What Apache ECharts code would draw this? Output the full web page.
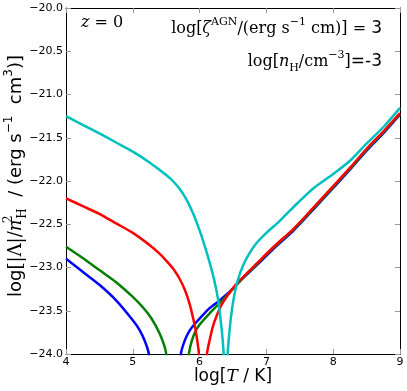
<!DOCTYPE html>
<html>
<head>
<meta charset="utf-8">
<script src="https://cdn.jsdelivr.net/npm/echarts@6/dist/echarts.min.js"></script>
<style>
  html, body { margin: 0; padding: 0; background: #fff; }
  #chart { width: 407px; height: 391px; }
</style>
</head>
<body>
<div id="chart"></div>
<script>
// log T ticks and log Lambda ticks
const xTicks = [4, 5, 6, 7, 8, 9];
const yRange = [-24, -20];

// [log T, log |Lambda|/nH^2]; each curve has a branch below and above the sign change
const blueLow = [[4.0, -22.90], [4.25, -23.05], [4.5, -23.20], [4.75, -23.38], [5.0, -23.61], [5.1, -23.72], [5.18, -23.85], [5.24, -24.0], [5.26, -24.4]];
const blueHigh = [[5.70, -24.4], [5.72, -24.0], [5.78, -23.84], [5.85, -23.73], [5.93, -23.65], [6.0, -23.59], [6.15, -23.47], [6.3, -23.38], [6.45, -23.28], [6.6, -23.16],
  [6.86, -22.97], [7.11, -22.78], [7.41, -22.57], [7.69, -22.34], [8.0, -22.08], [8.26, -21.86], [8.51, -21.64], [8.76, -21.44], [9.0, -21.23]];

const greenLow = [[4.0, -22.76], [4.25, -22.89], [4.5, -23.03], [4.75, -23.17], [5.0, -23.34], [5.15, -23.46], [5.28, -23.59], [5.4, -23.76], [5.47, -23.90], [5.5, -24.0], [5.52, -24.4]];
const greenHigh = [[5.82, -24.4], [5.84, -24.0], [5.89, -23.83], [5.95, -23.72], [6.0, -23.66], [6.15, -23.53], [6.3, -23.41], [6.45, -23.29], [6.6, -23.16],
  [6.86, -22.96], [7.11, -22.77], [7.41, -22.56], [7.69, -22.33], [8.0, -22.07], [8.26, -21.85], [8.51, -21.63], [8.76, -21.43], [9.0, -21.225]];

const redLow = [[4.0, -22.20], [4.25, -22.29], [4.5, -22.38], [4.75, -22.49], [5.0, -22.60], [5.25, -22.74], [5.4, -22.84], [5.5, -22.92], [5.6, -23.01],
  [5.7, -23.13], [5.78, -23.26], [5.85, -23.42], [5.91, -23.61], [5.95, -23.77], [5.99, -24.0], [6.01, -24.4]];
const redHigh = [[6.09, -24.4], [6.11, -24.0], [6.15, -23.84], [6.2, -23.68], [6.26, -23.55], [6.33, -23.43], [6.42, -23.32], [6.51, -23.23], [6.6, -23.15],
  [6.86, -22.95], [7.11, -22.76], [7.41, -22.55], [7.69, -22.32], [8.0, -22.06], [8.26, -21.84], [8.51, -21.62], [8.76, -21.42], [9.0, -21.215]];

const cyanLow = [[4.0, -21.25], [4.25, -21.35], [4.5, -21.45], [4.75, -21.555], [5.0, -21.66], [5.25, -21.785], [5.5, -21.93], [5.6, -22.00], [5.7, -22.09],
  [5.8, -22.21], [5.9, -22.37], [6.0, -22.57], [6.08, -22.76], [6.16, -22.97], [6.22, -23.15], [6.27, -23.34], [6.31, -23.57], [6.34, -23.79], [6.36, -24.0], [6.37, -24.4]];
const cyanHigh = [[6.41, -24.4], [6.42, -24.0], [6.44, -23.80], [6.47, -23.57], [6.51, -23.36], [6.57, -23.15], [6.66, -22.96], [6.75, -22.83], [6.85, -22.72], [7.0, -22.60],
  [7.2, -22.46], [7.46, -22.26], [7.71, -22.08], [8.0, -21.92], [8.26, -21.76], [8.51, -21.56], [8.76, -21.37], [9.0, -21.155]];

const chart = echarts.init(document.getElementById('chart'));

const sans = 'DejaVu Sans';
const serif = 'DejaVu Serif';

const line = (data, color) => ({
  type: 'line',
  data: data,
  showSymbol: false,
  smooth: 0.25,
  lineStyle: { color: color, width: 2.5 },
  itemStyle: { color: color },
  animation: false
});

const tickStyle = { show: true, inside: true, length: 5, lineStyle: { color: '#999', width: 1 } };
const frame = { show: true, lineStyle: { color: '#000', width: 1 } };

const option = {
  backgroundColor: '#fff',
  animation: false,
  grid: { left: 66, right: 7, top: 8, bottom: 37 },
  xAxis: [
    {
      type: 'value', min: 4, max: 9, interval: 1, position: 'bottom',
      axisLine: frame, axisTick: tickStyle, splitLine: { show: false },
      axisLabel: { color: '#000', fontFamily: sans, fontSize: 11, margin: 3 }
    },
    {
      type: 'value', min: 4, max: 9, interval: 1, position: 'top',
      axisLine: frame, axisTick: tickStyle, splitLine: { show: false },
      axisLabel: { show: false }
    }
  ],
  yAxis: [
    {
      type: 'value', min: yRange[0], max: yRange[1], interval: 0.5, position: 'left',
      axisLine: frame, axisTick: tickStyle, splitLine: { show: false },
      axisLabel: {
        color: '#000', fontFamily: sans, fontSize: 11, margin: 3,
        formatter: v => v.toFixed(1).replace('-', '\u2212')
      }
    },
    {
      type: 'value', min: yRange[0], max: yRange[1], interval: 0.5, position: 'right',
      axisLine: frame, axisTick: tickStyle, splitLine: { show: false },
      axisLabel: { show: false }
    }
  ],
  series: [
    line(blueLow, '#0000ff'), line(blueHigh, '#0000ff'),
    line(greenLow, '#008000'), line(greenHigh, '#008000'),
    line(redLow, '#ff0000'), line(redHigh, '#ff0000'),
    line(cyanLow, '#00bfbf'), line(cyanHigh, '#00bfbf')
  ],
  graphic: [
    {
      type: 'text', x: 233, y: 377,
      style: {
        text: '{s|log[}{m|T}{s| / K]}',
        align: 'center', verticalAlign: 'middle',
        rich: {
          s: { fontFamily: sans, fontSize: 17, fill: '#000' },
          m: { fontFamily: serif, fontStyle: 'italic', fontSize: 17, fill: '#000' }
        }
      }
    },
    {
      type: 'text', x: 16, y: 176, rotation: Math.PI / 2,
      style: {
        text: '{s|log}{r|[|Λ|/}{mi|n}{sup2|2}{sub|H}{s|  / (erg s}{sup|−1}{s|  cm}{sup|3}{s|)]}',
        align: 'center', verticalAlign: 'middle',
        rich: {
          s: { fontFamily: sans, fontSize: 18, lineHeight: 26, verticalAlign: 'middle', fill: '#000' },
          r: { fontFamily: serif, fontSize: 18, lineHeight: 26, verticalAlign: 'middle', fill: '#000' },
          mi: { fontFamily: serif, fontStyle: 'italic', fontSize: 18, lineHeight: 26, verticalAlign: 'middle', fill: '#000' },
          sup2: { fontFamily: serif, fontSize: 12, lineHeight: 14, verticalAlign: 'top', width: 1, fill: '#000' },
          sub: { fontFamily: serif, fontSize: 12, lineHeight: 16, verticalAlign: 'bottom', fill: '#000' },
          sup: { fontFamily: sans, fontSize: 12, lineHeight: 14, verticalAlign: 'top', fill: '#000' }
        }
      }
    },
    {
      type: 'text', x: 81, y: 23,
      style: {
        text: '{mi|z}{t| = 0}',
        align: 'left', verticalAlign: 'middle',
        rich: {
          mi: { fontFamily: serif, fontStyle: 'italic', fontSize: 16, fill: '#000' },
          t: { fontFamily: serif, fontSize: 16, fill: '#000' }
        }
      }
    },
    {
      type: 'text', x: 382, y: 29,
      style: {
        text: '{t|log[}{mi|ζ}{sup|AGN}{t|/(erg s}{sup|−1}{t| cm)] = }{sf|3}',
        align: 'right', verticalAlign: 'middle',
        rich: {
          t: { fontFamily: serif, fontSize: 16, lineHeight: 24, verticalAlign: 'middle', fill: '#000' },
          mi: { fontFamily: serif, fontStyle: 'italic', fontSize: 16, lineHeight: 24, verticalAlign: 'middle', fill: '#000' },
          sup: { fontFamily: serif, fontSize: 11, lineHeight: 13, verticalAlign: 'top', fill: '#000' },
          sf: { fontFamily: sans, fontSize: 17, lineHeight: 24, verticalAlign: 'middle', fill: '#000' }
        }
      }
    },
    {
      type: 'text', x: 382, y: 62,
      style: {
        text: '{t|log[}{mi|n}{sub|H}{t|/cm}{sup|−3}{t|]}{sf|=-3}',
        align: 'right', verticalAlign: 'middle',
        rich: {
          t: { fontFamily: serif, fontSize: 16, lineHeight: 24, verticalAlign: 'middle', fill: '#000' },
          mi: { fontFamily: serif, fontStyle: 'italic', fontSize: 16, lineHeight: 24, verticalAlign: 'middle', fill: '#000' },
          sub: { fontFamily: serif, fontSize: 11, lineHeight: 15, verticalAlign: 'bottom', fill: '#000' },
          sup: { fontFamily: serif, fontSize: 11, lineHeight: 13, verticalAlign: 'top', fill: '#000' },
          sf: { fontFamily: sans, fontSize: 17, lineHeight: 24, verticalAlign: 'middle', fill: '#000' }
        }
      }
    }
  ]
};

chart.setOption(option);
</script>
</body>
</html>
